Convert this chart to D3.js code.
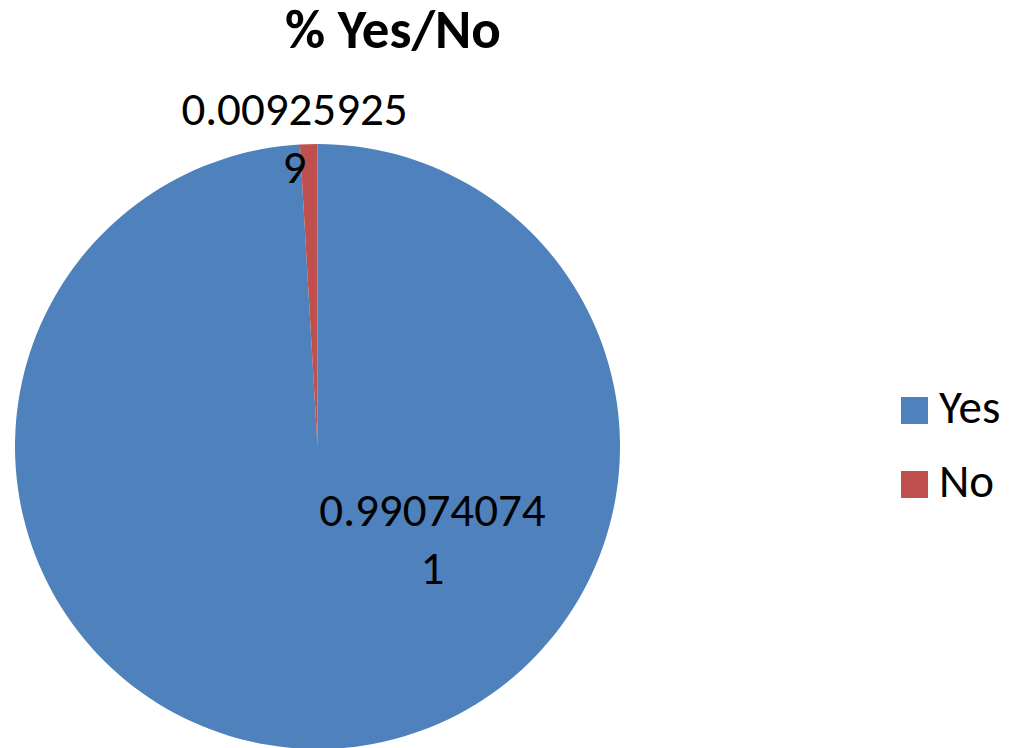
<!DOCTYPE html>
<html><head><meta charset="utf-8">
<script src="https://cdn.jsdelivr.net/npm/d3@7"></script>
<style>body{margin:0;background:#fff}svg{display:block}</style>
</head><body>
<svg id="c" width="1012" height="748"></svg>
<script>
const categories = ["Yes", "No"];
const values = [0.990740741, 0.009259259];
const labels = ["0.99074074\n1", "0.00925925\n9"];
const colors = ["#4F81BD", "#C0504D"];
const title = "% Yes/No";

const FONT = "Carlito, Lato, 'Open Sans', sans-serif";
const svg = d3.select("#c");
const cx = 317.5, cy = 446.5, R = 302.5;

svg.append("text").attr("x", 393).attr("y", 48).attr("text-anchor", "middle")
  .attr("font-family", FONT).attr("font-weight", "bold").attr("font-size", 55)
  .text(title);

const pie = d3.pie().sort(null).value(d => d)(values);
const arc = d3.arc().innerRadius(0).outerRadius(R);
const g = svg.append("g").attr("transform", `translate(${cx},${cy})`);
g.selectAll("path").data(pie).join("path")
  .attr("d", arc).attr("fill", (d, i) => colors[i]);

const labelPos = [
  {dx: 115, dy: 79},   // Yes label, inside slice
  {dx: -23, dy: -322}  // No label, outside top
];
labels.forEach((t, i) => {
  const lines = t.split("\n");
  const txt = g.append("text").attr("text-anchor", "middle")
    .attr("font-family", FONT).attr("font-size", 47).attr("fill", "#000");
  lines.forEach((l, j) => {
    txt.append("tspan").attr("x", labelPos[i].dx).attr("y", labelPos[i].dy + j * 58).text(l);
  });
});

const leg = svg.append("g");
categories.forEach((c, i) => {
  const y = 397 + i * 74;
  leg.append("rect").attr("x", 901).attr("y", y).attr("width", 27).attr("height", 27).attr("fill", colors[i]);
  leg.append("text").attr("x", 939).attr("y", y + 26).attr("font-family", FONT)
    .attr("font-size", 47).text(c);
});
</script>
</body></html>
